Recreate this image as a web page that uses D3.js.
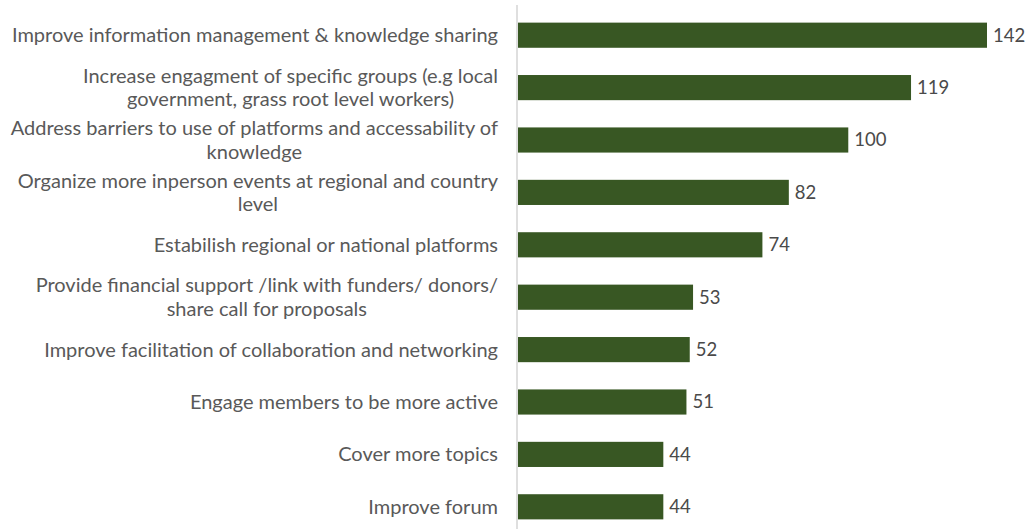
<!DOCTYPE html>
<html>
<head>
<meta charset="utf-8">
<script src="https://cdn.jsdelivr.net/npm/d3@7"></script>
<style>
  html, body { margin: 0; padding: 0; background: #ffffff; }
  svg { display: block; }
</style>
</head>
<body>
<svg id="chart" width="1032" height="529"></svg>
<script>
// Category labels (each entry is a list of wrapped lines)
const categories = [
  ["Improve information management & knowledge sharing"],
  ["Increase engagment of specific groups (e.g local", "government, grass root level workers)"],
  ["Address barriers to use of platforms and accessability of", "knowledge"],
  ["Organize more inperson events at regional and country", "level"],
  ["Estabilish regional or national platforms"],
  ["Provide financial support /link with funders/ donors/", "share call for proposals"],
  ["Improve facilitation of collaboration and networking"],
  ["Engage members to be more active"],
  ["Cover more topics"],
  ["Improve forum"]
];
const values = [142, 119, 100, 82, 74, 53, 52, 51, 44, 44];

const keys = categories.map(c => c.join(" "));
const svg = d3.select("#chart");

const x = d3.scaleLinear().domain([0, 142]).range([518, 987]);
const y = d3.scaleBand().domain(keys).range([9, 533])
  .paddingInner(0.52).paddingOuter(0.26);

const FONT = "Lato, 'Liberation Sans', sans-serif";

// vertical category axis line
svg.append("line")
  .attr("x1", 517).attr("x2", 517)
  .attr("y1", 5).attr("y2", 529)
  .attr("stroke", "#d4d4d4").attr("stroke-width", 1.5);

// bars
svg.selectAll("rect.bar").data(values).join("rect")
  .attr("class", "bar")
  .attr("x", x(0))
  .attr("y", (d, i) => y(keys[i]))
  .attr("width", d => x(d) - x(0))
  .attr("height", y.bandwidth())
  .attr("fill", "#385723");

// value labels
svg.selectAll("text.val").data(values).join("text")
  .attr("class", "val")
  .attr("x", d => x(d) + 6)
  .attr("y", (d, i) => y(keys[i]) + y.bandwidth() / 2)
  .attr("dy", "0.35em")
  .attr("font-family", FONT)
  .attr("font-size", 18.5)
  .attr("fill", "#4a4a4a")
  .text(d => d);

// category labels: lines centred on each other, block right-aligned
const rightEdge = 498;
const lineH = 23.5;
categories.forEach((lines, i) => {
  const cy = y(keys[i]) + y.bandwidth() / 2;
  const g = svg.append("g");
  const texts = lines.map((ln, j) => g.append("text")
    .attr("y", cy + (j - (lines.length - 1) / 2) * lineH)
    .attr("dy", "0.35em")
    .attr("text-anchor", "middle")
    .attr("font-family", FONT)
    .attr("font-size", 20)
    .attr("fill", "#595959")
    .text(ln));
  const maxW = d3.max(texts, t => t.node().getComputedTextLength());
  texts.forEach(t => t.attr("x", rightEdge - maxW / 2));
});
</script>
</body>
</html>
